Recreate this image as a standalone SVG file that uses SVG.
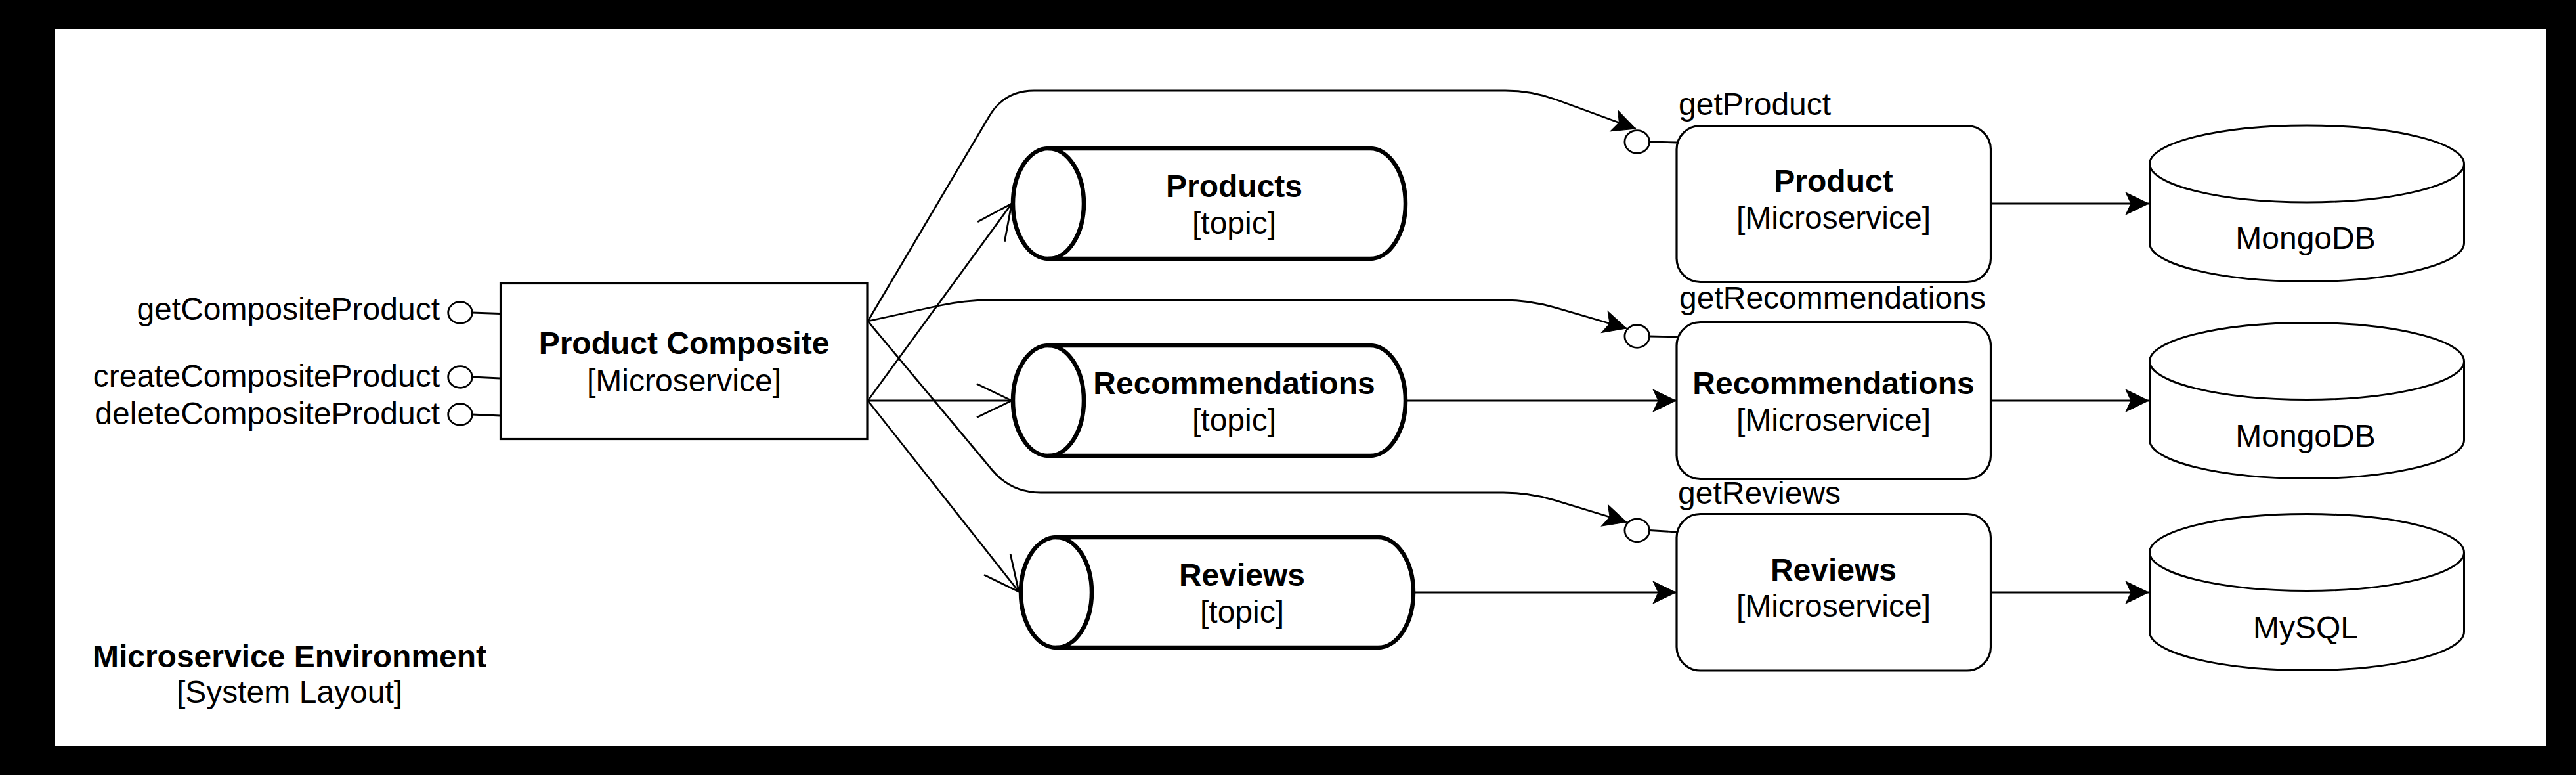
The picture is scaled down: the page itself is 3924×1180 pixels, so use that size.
<svg xmlns="http://www.w3.org/2000/svg" width="3924" height="1180" viewBox="0 0 3924 1180">
<style>
.t{font-family:"Liberation Sans",Arial,sans-serif;font-size:48px;fill:#000}
.b{font-weight:bold}
.c{text-anchor:middle}
.e{text-anchor:end}
.box{fill:#fff;stroke:#000;stroke-width:3.2}
.topic{fill:#fff;stroke:#000;stroke-width:6.5;stroke-linejoin:round}
.topicin{fill:none;stroke:#000;stroke-width:6.5}
.db{fill:#fff;stroke:#000;stroke-width:3}
.dbin{fill:none;stroke:#000;stroke-width:3}
.ln{fill:none;stroke:#000;stroke-width:2.8}
.lol{fill:#fff;stroke:#000;stroke-width:2.8}
.fa{marker-end:url(#fa)}
.oa{marker-end:url(#oa)}
</style>
<defs>
<marker id="fa" viewBox="-37 -19 39 38" markerWidth="39" markerHeight="38" refX="0" refY="0" orient="auto" markerUnits="userSpaceOnUse" style="overflow:visible"><path d="M0,0 L-35,-17 L-27,0 L-35,17 Z" fill="#000" stroke="#000" stroke-width="1"/></marker>
<marker id="oa" viewBox="-56 -28 60 56" markerWidth="60" markerHeight="56" refX="0" refY="0" orient="auto" markerUnits="userSpaceOnUse" style="overflow:visible"><path d="M-53,-25.5 L0,0 L-53,25.5" fill="none" stroke="#000" stroke-width="2.8"/></marker>
</defs>
<rect x="0" y="0" width="3924" height="1180" fill="#000"/>
<rect x="84" y="44" width="3795" height="1092" fill="#fff"/>

<g id="connectors">
<path class="ln fa" d="M1322,489 L1507,176.7 Q1530,138 1575,138 L2293,138 Q2333,138 2370.6,151.7 L2491.7,196"/>
<path class="ln fa" d="M1322,489 L1430,465.5 Q1469,457 1509,457 L2290,457 Q2330,457 2368.4,468.2 L2478,500"/>
<path class="ln fa" d="M1322,489 L1511.2,715.5 Q1540,750 1585,750 L2290,750 Q2330,750 2368.3,761.6 L2478,795"/>
<path class="ln oa" d="M1322,610 L1541,310"/>
<path class="ln oa" d="M1322,610 L1541,610"/>
<path class="ln oa" d="M1322,610 L1552,901"/>
<path class="ln fa" d="M2144,610 L2553,610"/>
<path class="ln fa" d="M2156,902 L2553,902"/>
<path class="ln fa" d="M3034,310 L3273,310"/>
<path class="ln fa" d="M3034,610 L3273,610"/>
<path class="ln fa" d="M3034,902 L3273,902"/>
</g>

<g id="env-label">
<text class="t b c" x="441" y="1016">Microservice Environment</text>
<text class="t c" x="441" y="1070">[System Layout]</text>
</g>

<g id="if-getCompositeProduct">
<path class="ln" d="M719,476 L762,477.5"/>
<ellipse class="lol" cx="701" cy="476" rx="18.3" ry="16.3"/>
<text class="t e" x="670" y="487">getCompositeProduct</text>
</g>
<g id="if-createCompositeProduct">
<path class="ln" d="M719,574 L762,576"/>
<ellipse class="lol" cx="701" cy="574" rx="18.3" ry="16.3"/>
<text class="t e" x="670" y="589">createCompositeProduct</text>
</g>
<g id="if-deleteCompositeProduct">
<path class="ln" d="M719,631 L762,633"/>
<ellipse class="lol" cx="701" cy="631" rx="18.3" ry="16.3"/>
<text class="t e" x="670" y="646">deleteCompositeProduct</text>
</g>

<g id="product-composite">
<rect class="box" x="762.5" y="431.5" width="558.5" height="237"/>
<text class="t b c" x="1042" y="539">Product Composite</text>
<text class="t c" x="1042" y="596">[Microservice]</text>
</g>

<g id="topic-products">
<path class="topic" d="M1597,226 L2087,226 A54 84 0 0 1 2087,394 L1597,394 A54 84 0 0 1 1597,226 Z"/>
<path class="topicin" d="M1597,226 A54 84 0 0 1 1597,394"/>
<text class="t b c" x="1880" y="300">Products</text>
<text class="t c" x="1880" y="356">[topic]</text>
</g>
<g id="topic-recommendations">
<path class="topic" d="M1597,526 L2087,526 A54 84 0 0 1 2087,694 L1597,694 A54 84 0 0 1 1597,526 Z"/>
<path class="topicin" d="M1597,526 A54 84 0 0 1 1597,694"/>
<text class="t b c" x="1880" y="600">Recommendations</text>
<text class="t c" x="1880" y="656">[topic]</text>
</g>
<g id="topic-reviews">
<path class="topic" d="M1609,818 L2099,818 A54 84 0 0 1 2099,986 L1609,986 A54 84 0 0 1 1609,818 Z"/>
<path class="topicin" d="M1609,818 A54 84 0 0 1 1609,986"/>
<text class="t b c" x="1892" y="892">Reviews</text>
<text class="t c" x="1892" y="948">[topic]</text>
</g>

<g id="if-getProduct">
<path class="ln" d="M2512.5,216 L2554,217"/>
<ellipse class="lol" cx="2493.7" cy="216" rx="18.8" ry="17.3"/>
<text class="t" x="2557" y="175">getProduct</text>
</g>
<g id="if-getRecommendations">
<path class="ln" d="M2512.5,512 L2554,513"/>
<ellipse class="lol" cx="2493.7" cy="512" rx="18.8" ry="17.3"/>
<text class="t" x="2558" y="470">getRecommendations</text>
</g>
<g id="if-getReviews">
<path class="ln" d="M2512.5,807.5 L2554,810"/>
<ellipse class="lol" cx="2493.7" cy="807.5" rx="18.8" ry="17.3"/>
<text class="t" x="2556" y="767">getReviews</text>
</g>

<g id="svc-product">
<rect class="box" x="2554" y="191.5" width="478.5" height="238" rx="36" ry="36"/>
<text class="t b c" x="2793" y="292">Product</text>
<text class="t c" x="2793" y="348">[Microservice]</text>
</g>
<g id="svc-recommendations">
<rect class="box" x="2554" y="490.5" width="478.5" height="239" rx="36" ry="36"/>
<text class="t b c" x="2793" y="600">Recommendations</text>
<text class="t c" x="2793" y="656">[Microservice]</text>
</g>
<g id="svc-reviews">
<rect class="box" x="2554" y="782.5" width="478.5" height="238.5" rx="36" ry="36"/>
<text class="t b c" x="2793" y="884">Reviews</text>
<text class="t c" x="2793" y="939">[Microservice]</text>
</g>

<g id="db-product">
<path class="db" d="M3274.5,249.5 A239.5 58.5 0 0 1 3753.5,249.5 L3753.5,370 A239.5 58.5 0 0 1 3274.5,370 Z"/>
<path class="dbin" d="M3274.5,249.5 A239.5 58.5 0 0 0 3753.5,249.5"/>
<text class="t c" x="3512" y="379">MongoDB</text>
</g>
<g id="db-recommendations">
<path class="db" d="M3274.5,550 A239.5 58.5 0 0 1 3753.5,550 L3753.5,670 A239.5 58.5 0 0 1 3274.5,670 Z"/>
<path class="dbin" d="M3274.5,550 A239.5 58.5 0 0 0 3753.5,550"/>
<text class="t c" x="3512" y="680">MongoDB</text>
</g>
<g id="db-reviews">
<path class="db" d="M3274.5,841 A239.5 58.5 0 0 1 3753.5,841 L3753.5,962 A239.5 58.5 0 0 1 3274.5,962 Z"/>
<path class="dbin" d="M3274.5,841 A239.5 58.5 0 0 0 3753.5,841"/>
<text class="t c" x="3512" y="972">MySQL</text>
</g>
</svg>
